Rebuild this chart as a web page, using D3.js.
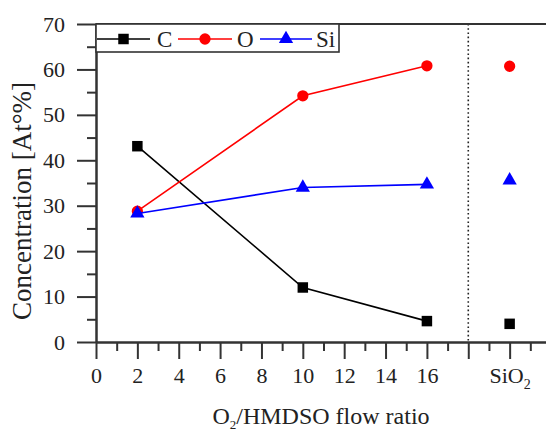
<!DOCTYPE html>
<html>
<head>
<meta charset="utf-8">
<script src="https://cdn.jsdelivr.net/npm/d3@7"></script>
<style>
  html, body { margin: 0; padding: 0; background: #fff; }
  svg { display: block; }
  svg text { font-family: "Liberation Serif", "Times New Roman", serif; }
</style>
</head>
<body>
<svg id="chart" width="546" height="431"></svg>
<script>
// Flow ratios of the deposited films; position 20 holds the SiO2 reference
const ratios = [2, 10, 16];
const refX = 20;
const dividerX = 18;

// Atomic concentrations [At%]
const carbon = [43.1, 12.0, 4.6];
const oxygen = [28.8, 54.2, 60.8];
const silicon = [28.3, 34.0, 34.7];
const refCarbon = 4.0;
const refOxygen = 60.7;
const refSilicon = 35.6;

const xMajorTicks = [0, 2, 4, 6, 8, 10, 12, 14, 16, 18, 20];
const xMinorTicks = [1, 3, 5, 7, 9, 11, 13, 15, 17, 19, 21];
const xTickLabels = ["0", "2", "4", "6", "8", "10", "12", "14", "16", "", "SiO2"];
const yMajorTicks = [0, 10, 20, 30, 40, 50, 60, 70];
const yMinorTicks = [5, 15, 25, 35, 45, 55, 65];

const seriesNames = ["C", "O", "Si"];

const svg = d3.select("#chart");
const axisColor = "#333";
const textColor = "#222";
const serif = "'Liberation Serif', 'Times New Roman', serif";

const x = d3.scaleLinear().domain([0, 22]).range([96, 551]);
const y = d3.scaleLinear().domain([0, 70]).range([342, 24]);

const series = [
  { name: seriesNames[0], color: "#000", symbol: d3.symbolSquare, size: 110, values: carbon, ref: refCarbon },
  { name: seriesNames[1], color: "#ff0000", symbol: d3.symbolCircle, size: 100, values: oxygen, ref: refOxygen },
  { name: seriesNames[2], color: "#0000ff", symbol: d3.symbolTriangle, size: 88, values: silicon, ref: refSilicon }
];

// Dotted divider between the film series and the reference
svg.append("line")
  .attr("x1", x(dividerX)).attr("x2", x(dividerX))
  .attr("y1", y(70)).attr("y2", y(0))
  .attr("stroke", "#222").attr("stroke-width", 1.6)
  .attr("stroke-dasharray", "1.6,2.6");

// Top frame line
svg.append("line")
  .attr("x1", x(0)).attr("x2", x(22))
  .attr("y1", y(70)).attr("y2", y(70))
  .attr("stroke", axisColor).attr("stroke-width", 2);

// Y axis: minor then major ticks
const yMinor = svg.append("g").attr("transform", `translate(${x(0)},0)`)
  .call(d3.axisLeft(y).tickValues(yMinorTicks).tickSize(9).tickSizeOuter(0).tickFormat(""));
const yMajor = svg.append("g").attr("transform", `translate(${x(0)},0)`)
  .call(d3.axisLeft(y).tickValues(yMajorTicks).tickSize(19).tickSizeOuter(0).tickPadding(12));

// X axis: minor then major ticks
const xMinor = svg.append("g").attr("transform", `translate(0,${y(0)})`)
  .call(d3.axisBottom(x).tickValues(xMinorTicks).tickSize(9).tickSizeOuter(0).tickFormat(""));
const xMajor = svg.append("g").attr("transform", `translate(0,${y(0)})`)
  .call(d3.axisBottom(x).tickValues(xMajorTicks).tickSize(17).tickSizeOuter(0)
    .tickFormat((d, i) => xTickLabels[i]));

[yMinor, yMajor, xMinor, xMajor].forEach(g => {
  g.attr("font-family", serif).attr("font-size", 22);
  g.select(".domain").attr("stroke", axisColor).attr("stroke-width", 2);
  g.selectAll(".tick line").attr("stroke", axisColor).attr("stroke-width", 2);
});

yMajor.selectAll(".tick text")
  .style("font-family", serif).style("font-size", "22px").attr("fill", textColor);

xMajor.selectAll(".tick text")
  .style("font-family", serif).style("font-size", "22px").attr("fill", textColor)
  .attr("y", 41).attr("dy", 0)
  .each(function () {
    const t = d3.select(this);
    if (t.text() === "SiO2") {
      t.text(null);
      t.append("tspan").text("SiO");
      t.append("tspan").text("2").style("font-size", "14px").attr("dy", 6);
    }
  });

// Series lines and markers
const line = d3.line().x((d, i) => x(ratios[i])).y(d => y(d));
series.forEach(s => {
  svg.append("path")
    .datum(s.values)
    .attr("d", line)
    .attr("fill", "none")
    .attr("stroke", s.color)
    .attr("stroke-width", 1.6);
  const pts = s.values.map((v, i) => ({ xv: ratios[i], yv: v }))
    .concat([{ xv: refX, yv: s.ref }]);
  svg.selectAll(null).data(pts).enter().append("path")
    .attr("d", d3.symbol().type(s.symbol).size(s.size))
    .attr("transform", d => `translate(${x(d.xv)},${y(d.yv)})`)
    .attr("fill", s.color);
});

// Legend
const legend = svg.append("g");
legend.append("rect")
  .attr("x", 96).attr("y", 24).attr("width", 243).attr("height", 28)
  .attr("fill", "#fff").attr("stroke", axisColor).attr("stroke-width", 1.6);
const legendItems = [
  { x1: 97, x2: 150, tx: 157 },
  { x1: 178, x2: 232, tx: 237 },
  { x1: 260, x2: 312, tx: 316 }
];
series.forEach((s, i) => {
  const it = legendItems[i];
  legend.append("line")
    .attr("x1", it.x1).attr("x2", it.x2).attr("y1", 39).attr("y2", 39)
    .attr("stroke", s.color).attr("stroke-width", 1.6);
  legend.append("path")
    .attr("d", d3.symbol().type(s.symbol).size(s.size))
    .attr("transform", `translate(${(it.x1 + it.x2) / 2},39)`)
    .attr("fill", s.color);
  legend.append("text")
    .attr("x", it.tx).attr("y", 47)
    .style("font-size", "23px").attr("fill", textColor)
    .text(s.name);
});

// Axis titles
const xTitle = svg.append("text")
  .attr("x", 321).attr("y", 424)
  .attr("text-anchor", "middle")
  .style("font-size", "24px").attr("fill", textColor);
xTitle.append("tspan").text("O");
xTitle.append("tspan").text("2").style("font-size", "13px").attr("dy", 5);
xTitle.append("tspan").text("/HMDSO flow ratio").attr("dy", -5);

svg.append("text")
  .attr("transform", "translate(31,201) rotate(-90)")
  .attr("text-anchor", "middle")
  .style("font-size", "27px").attr("fill", textColor)
  .text("Concentration [At°%]");
</script>
</body>
</html>
